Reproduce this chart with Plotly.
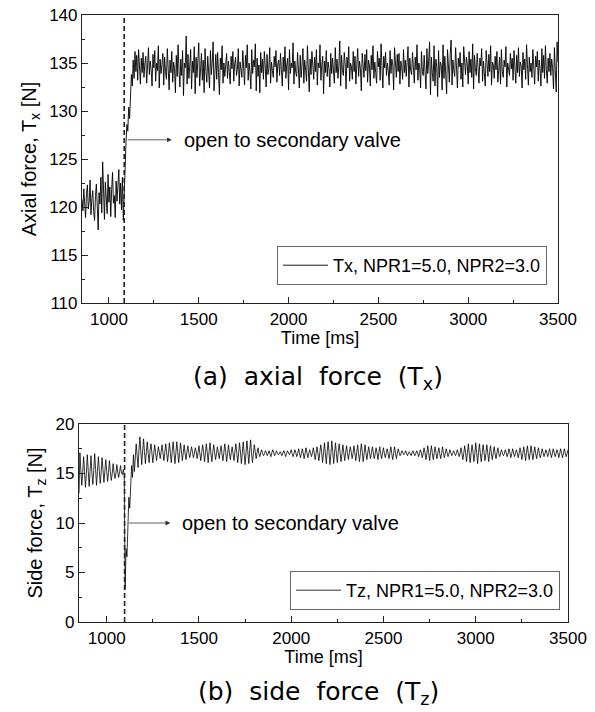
import plotly.graph_objects as go

# ---------------- data (sampled every 5 ms from 850 ms to 3500 ms) ----------------
T_START = 850
T_STEP = 5

tx_values = [
    120.8, 119.6, 121.9, 120.2, 118.9, 121.4, 122.3, 119.8, 120.6, 122.8, 119.2, 120.9, 121.7, 119.5, 118.6, 121.2, 122.4, 120.1, 117.6, 121.5,
    120.3, 123.1, 119.4, 124.7, 120.2, 118.7, 122.6, 121.0, 119.3, 123.4, 120.5, 122.1, 119.0, 121.8, 123.6, 120.4, 121.2, 118.9, 122.7, 120.6,
    121.9, 123.9, 120.3, 122.5, 119.7, 123.1, 118.6, 122.4, 124.0, 126.8, 128.6, 127.9, 130.4, 129.2, 131.6, 133.8, 132.6, 135.3, 133.4, 136.2,
    134.1, 135.8, 133.2, 136.4, 134.7, 132.8, 135.5, 134.0, 136.1, 133.5, 134.9, 135.7, 132.9, 134.4, 136.6, 133.8, 135.2, 134.3, 132.6, 135.9,
    134.5, 136.3, 133.1, 135.0, 134.2, 136.8, 132.4, 135.4, 133.9, 134.8, 136.0, 132.7, 135.6, 134.1, 133.3, 136.5, 134.6, 132.2, 135.3, 134.0,
    136.2, 133.0, 135.1, 134.4, 131.9, 135.8, 133.6, 136.9, 134.2, 132.5, 135.4, 133.7, 136.3, 131.6, 135.0, 134.5, 137.8, 132.8, 135.9, 133.4,
    134.7, 136.4, 132.3, 135.2, 134.0, 136.7, 131.8, 135.6, 133.5, 134.9, 137.1, 132.6, 134.3, 136.0, 133.2, 135.3, 131.9, 136.5, 134.1, 133.0,
    135.7, 134.2, 132.4, 136.3, 133.8, 135.1, 137.2, 132.1, 134.6, 135.9, 133.3, 136.1, 134.0, 131.7, 135.5, 134.3, 136.8, 132.9, 135.0, 133.6,
    134.8, 136.0, 133.4, 135.2, 134.1, 132.8, 135.7, 134.4, 136.2, 133.1, 134.9, 135.6, 133.7, 134.3, 136.5, 132.6, 135.1, 134.0, 133.5, 136.3,
    134.2, 132.7, 135.8, 134.5, 136.9, 133.2, 135.0, 134.1, 132.3, 136.4, 133.9, 135.3, 134.6, 137.0, 132.1, 135.5, 133.6, 134.8, 131.9, 136.1,
    134.0, 135.4, 133.3, 136.2, 134.7, 132.5, 135.9, 133.8, 134.4, 136.6, 132.9, 135.1, 134.2, 133.5, 135.7, 134.6, 136.3, 133.0, 134.9, 135.3,
    133.7, 136.0, 134.3, 132.6, 135.6, 134.1, 136.7, 133.4, 134.8, 135.5, 132.2, 136.4, 133.9, 135.0, 134.5, 137.1, 132.8, 135.2, 134.0, 133.6,
    136.1, 134.4, 132.4, 135.8, 133.5, 134.9, 136.5, 132.9, 135.3, 134.2, 133.1, 136.8, 134.6, 132.0, 135.4, 133.8, 136.2, 134.7, 133.3, 135.6,
    134.1, 136.4, 132.7, 135.0, 134.5, 136.9, 133.2, 134.8, 135.7, 131.8, 135.2, 134.0, 136.3, 133.6, 135.1, 134.4, 132.5, 136.0, 133.9, 135.5,
    134.3, 132.9, 136.6, 134.0, 135.4, 133.4, 134.7, 137.3, 132.6, 135.8, 134.2, 133.7, 136.1, 134.9, 132.3, 135.6, 134.5, 136.7, 133.1, 135.0,
    134.6, 133.3, 136.2, 134.1, 135.7, 132.8, 134.9, 136.5, 133.6, 135.2, 134.4, 132.1, 136.0, 134.8, 133.5, 135.9, 134.2, 136.4, 133.0, 135.3,
    134.7, 132.6, 135.8, 134.3, 136.8, 133.4, 135.1, 134.0, 132.9, 136.2, 134.6, 135.5, 133.2, 137.0, 134.1, 132.4, 135.7, 134.5, 136.1, 133.7,
    135.0, 134.2, 132.7, 136.3, 133.9, 135.4, 134.8, 132.2, 136.6, 134.4, 133.5, 135.9, 134.1, 136.0, 132.8, 135.2, 134.6, 133.3, 136.4, 134.0,
    135.3, 133.6, 134.9, 136.7, 132.5, 135.5, 134.2, 133.8, 136.1, 134.7, 132.9, 135.6, 134.3, 136.9, 133.2, 135.0, 134.5, 132.4, 136.2, 134.1,
    133.7, 135.8, 134.4, 132.3, 136.5, 133.9, 135.2, 137.2, 131.7, 135.6, 134.0, 133.1, 136.8, 132.6, 135.4, 134.6, 131.5, 136.3, 133.5, 135.1,
    134.8, 132.2, 136.9, 133.4, 135.7, 134.1, 131.8, 136.4, 134.5, 133.0, 135.9, 137.4, 132.7, 135.3, 134.2, 133.6, 136.6, 134.0, 132.4, 135.5,
    134.6, 136.1, 133.3, 135.0, 132.5, 136.7, 134.3, 133.8, 135.6, 134.9, 132.8, 136.2, 134.0, 135.4, 133.5, 137.0, 132.3, 135.8, 134.4, 133.7,
    136.0, 134.2, 132.9, 135.5, 134.7, 136.5, 133.1, 135.2, 134.0, 132.6, 136.3, 134.5, 133.6, 135.9, 134.1, 136.8, 132.7, 135.1, 134.8, 133.4,
    135.7, 134.3, 136.2, 133.0, 134.9, 135.6, 132.8, 136.4, 134.1, 133.5, 135.3, 134.6, 136.7, 132.5, 135.0, 134.2, 133.7, 136.0, 134.4, 135.5,
    133.2, 136.3, 134.5, 132.9, 135.8, 134.0, 136.6, 133.6, 135.1, 134.7, 132.4, 136.1, 134.3, 135.4, 133.3, 136.9, 134.8, 132.7, 135.6, 134.1,
    135.0, 133.5, 136.4, 134.2, 132.8, 135.7, 134.6, 136.2, 133.1, 135.3, 134.4, 132.6, 136.5, 134.0, 135.8, 133.4, 136.8, 134.3, 132.9, 135.5,
    134.1, 136.0, 133.7, 135.4, 134.5, 132.3, 136.6, 134.2, 132.0, 137.2, 135.1,
]

tz_values = [
    13.0, 17.1, 15.3, 13.8, 15.1, 16.7, 15.2, 13.6, 15.0, 16.9, 15.3, 13.7, 15.2, 16.8, 15.1, 13.9, 15.3, 17.0, 15.4, 13.8,
    15.2, 16.7, 15.3, 14.0, 15.1, 16.6, 15.4, 14.1, 15.2, 16.4, 15.3, 14.2, 15.1, 16.3, 15.2, 14.3, 15.0, 16.0, 15.1, 14.5,
    15.0, 15.9, 15.1, 14.6, 15.2, 15.8, 15.0, 14.9, 15.4, 14.8, 3.3, 7.4, 6.6, 9.5, 12.6, 11.5, 14.2, 15.8, 14.6, 16.9,
    15.2, 16.6, 18.0, 16.8, 15.6, 17.4, 18.7, 17.2, 15.9, 17.3, 18.5, 17.1, 16.0, 17.2, 18.2, 17.0, 16.1, 17.3, 18.0, 17.1,
    16.1, 17.0, 17.9, 17.1, 16.3, 17.0, 17.7, 17.2, 16.5, 17.2, 17.9, 17.1, 16.3, 17.1, 18.0, 17.2, 16.2, 17.0, 18.1, 17.1,
    16.1, 17.2, 18.2, 17.1, 16.0, 17.1, 18.2, 17.2, 16.1, 17.0, 18.1, 17.3, 16.3, 17.1, 17.9, 17.0, 16.4, 17.2, 17.8, 17.1,
    16.6, 17.1, 17.7, 17.2, 16.6, 17.0, 17.6, 17.2, 16.5, 17.1, 17.8, 17.0, 16.3, 17.1, 17.9, 17.2, 16.2, 17.0, 18.0, 17.1,
    16.1, 17.2, 18.1, 17.0, 16.2, 17.1, 17.9, 17.2, 16.4, 17.0, 17.7, 17.1, 16.5, 17.2, 17.8, 17.0, 16.3, 17.1, 18.0, 17.2,
    16.2, 17.0, 17.9, 17.1, 16.4, 17.1, 17.7, 17.0, 16.3, 17.2, 18.0, 17.1, 16.1, 17.0, 18.1, 17.2, 16.0, 17.1, 18.2, 17.0,
    15.9, 17.1, 18.3, 17.2, 16.0, 17.3, 18.4, 17.1, 16.1, 17.0, 17.9, 17.2, 16.5, 17.1, 17.6, 17.0, 16.7, 17.1, 17.4, 17.0,
    16.8, 17.0, 17.3, 17.1, 16.8, 17.0, 17.3, 17.0, 16.7, 17.1, 17.4, 17.1, 16.8, 17.0, 17.3, 17.1, 16.9, 17.0, 17.2, 17.0,
    16.8, 17.1, 17.3, 17.0, 16.7, 17.0, 17.3, 17.1, 16.9, 17.1, 17.4, 17.0, 16.7, 17.0, 17.4, 17.1, 16.7, 17.0, 17.5, 17.1,
    16.6, 17.0, 17.5, 17.1, 16.5, 17.0, 17.6, 17.1, 16.6, 17.0, 17.4, 17.1, 16.7, 17.1, 17.6, 17.0, 16.4, 17.1, 17.7, 17.0,
    16.3, 17.1, 17.9, 17.2, 16.1, 17.0, 18.1, 17.1, 16.0, 17.2, 18.2, 17.1, 15.9, 17.0, 18.3, 17.2, 16.0, 17.1, 18.1, 17.0,
    16.1, 17.2, 18.0, 17.1, 16.2, 17.0, 17.9, 17.1, 16.3, 17.1, 17.8, 17.0, 16.4, 17.1, 17.7, 17.2, 16.5, 17.0, 17.8, 17.1,
    16.3, 17.1, 17.9, 17.0, 16.2, 17.1, 18.0, 17.2, 16.2, 17.0, 17.9, 17.1, 16.4, 17.1, 17.7, 17.0, 16.5, 17.1, 17.7, 17.1,
    16.5, 17.0, 17.6, 17.1, 16.4, 17.1, 17.7, 17.0, 16.5, 17.1, 17.6, 17.0, 16.6, 17.1, 17.5, 17.0, 16.5, 17.1, 17.7, 17.0,
    16.4, 17.0, 17.7, 17.1, 16.5, 17.0, 17.5, 17.1, 16.8, 17.0, 17.3, 17.1, 16.9, 17.0, 17.3, 17.1, 16.8, 17.0, 17.2, 17.0,
    16.8, 17.1, 17.3, 17.0, 16.8, 17.0, 17.3, 17.1, 16.7, 17.0, 17.4, 17.1, 16.6, 17.0, 17.6, 17.1, 16.4, 17.0, 17.8, 17.1,
    16.3, 17.1, 17.8, 17.0, 16.4, 17.1, 17.7, 17.0, 16.5, 17.1, 17.6, 17.0, 16.5, 17.0, 17.7, 17.1, 16.6, 17.0, 17.5, 17.1,
    16.7, 17.0, 17.4, 17.1, 16.8, 17.0, 17.3, 17.1, 16.8, 17.0, 17.4, 17.1, 16.7, 17.0, 17.6, 17.1, 16.4, 17.0, 17.8, 17.1,
    16.2, 17.1, 18.0, 17.0, 16.1, 17.1, 17.9, 17.2, 16.2, 17.0, 18.1, 17.1, 16.0, 17.1, 18.0, 17.0, 16.2, 17.1, 17.9, 17.1,
    16.3, 17.0, 17.9, 17.1, 16.2, 17.1, 17.8, 17.0, 16.4, 17.1, 17.7, 17.0, 16.5, 17.1, 17.6, 17.0, 16.7, 17.1, 17.4, 17.0,
    16.8, 17.0, 17.4, 17.1, 16.7, 17.0, 17.5, 17.1, 16.6, 17.0, 17.5, 17.1, 16.7, 17.0, 17.4, 17.1, 16.6, 17.0, 17.6, 17.1,
    16.4, 17.0, 17.7, 17.1, 16.3, 17.1, 17.8, 17.0, 16.4, 17.1, 17.8, 17.0, 16.4, 17.1, 17.7, 17.0, 16.5, 17.1, 17.6, 17.0,
    16.6, 17.0, 17.5, 17.1, 16.7, 17.0, 17.4, 17.1, 16.7, 17.0, 17.5, 17.1, 16.6, 17.0, 17.5, 17.1, 16.7, 17.0, 17.4, 17.1,
    16.6, 17.0, 17.5, 17.1, 16.6, 17.0, 17.5, 17.1, 16.7, 17.0, 17.4,
]

time_tx = [T_START + T_STEP * i for i in range(len(tx_values))]
time_tz = [T_START + T_STEP * i for i in range(len(tz_values))]

valve_open_tx = 1085
valve_open_tz = 1097
x_ticks = [1000, 1500, 2000, 2500, 3000, 3500]
tx_ticks = [110, 115, 120, 125, 130, 135, 140]
tz_ticks = [0, 5, 10, 15, 20]

FONT = "Liberation Sans, Arial, sans-serif"
CAP_FONT = "DejaVu Sans"
W, H = 595, 712

fig = go.Figure()
fig.add_trace(go.Scatter(x=time_tx, y=tx_values, mode="lines",
                         line=dict(color="black", width=0.9),
                         name="Tx, NPR1=5.0, NPR2=3.0",
                         xaxis="x", yaxis="y", legend="legend"))
fig.add_trace(go.Scatter(x=time_tz, y=tz_values, mode="lines",
                         line=dict(color="black", width=0.8),
                         name="Tz, NPR1=5.0, NPR2=3.0",
                         xaxis="x2", yaxis="y2", legend="legend2"))

axis_common = dict(showline=True, mirror=True, linecolor="#222", linewidth=1.2,
                   showgrid=False, zeroline=False, ticks="inside", ticklen=6,
                   tickwidth=1, tickcolor="#222", automargin=False,
                   tickfont=dict(family=FONT, size=17, color="black"))
title_font = dict(family=FONT, size=18, color="black")
ytitle_font = dict(family=FONT, size=20, color="black")

fig.update_layout(
    width=W, height=H,
    margin=dict(l=0, r=0, t=0, b=0),
    paper_bgcolor="white", plot_bgcolor="white",
    font=dict(family=FONT, color="black"),
    xaxis=dict(domain=[82 / W, 558 / W], anchor="y", range=[850, 3500],
               tickmode="array", tickvals=x_ticks,
               minor=dict(ticks="inside", ticklen=3, dtick=250, tick0=1000, tickcolor="#222"),
               title=dict(text="Time [ms]", font=title_font, standoff=2),
               **axis_common),
    yaxis=dict(domain=[1 - 303 / H, 1 - 15 / H], anchor="x", range=[110, 140],
               tickmode="array", tickvals=tx_ticks,
               minor=dict(ticks="inside", ticklen=3, dtick=2.5, tick0=110, tickcolor="#222"),
               title=dict(text="Axial force, T<sub>x</sub> [N]", font=ytitle_font, standoff=7),
               **axis_common),
    xaxis2=dict(domain=[79 / W, 568 / W], anchor="y2", range=[850, 3500],
                tickmode="array", tickvals=x_ticks,
                minor=dict(ticks="inside", ticklen=3, dtick=250, tick0=1000, tickcolor="#222"),
                title=dict(text="Time [ms]", font=title_font, standoff=0),
                **axis_common),
    yaxis2=dict(domain=[1 - 622 / H, 1 - 424 / H], anchor="x2", range=[0, 20],
                tickmode="array", tickvals=tz_ticks,
                minor=dict(ticks="inside", ticklen=3, dtick=2.5, tick0=0, tickcolor="#222"),
                title=dict(text="Side force, T<sub>z</sub> [N]", font=ytitle_font, standoff=7),
                **axis_common),
    legend=dict(x=547 / W, y=1 - 285 / H, xanchor="right", yanchor="bottom",
                bordercolor="#666", borderwidth=1, bgcolor="white", itemwidth=45,
                font=dict(family=FONT, size=18, color="black")),
    legend2=dict(x=560 / W, y=1 - 610 / H, xanchor="right", yanchor="bottom",
                 bordercolor="#666", borderwidth=1, bgcolor="white", itemwidth=45,
                 font=dict(family=FONT, size=18, color="black")),
    showlegend=True,
)

# dashed valve-opening lines
fig.add_shape(type="line", xref="x", yref="y domain", x0=valve_open_tx, x1=valve_open_tx,
              y0=0, y1=1, line=dict(color="#222", width=1.6, dash="5px,3px"))
fig.add_shape(type="line", xref="x2", yref="y2 domain", x0=valve_open_tz, x1=valve_open_tz,
              y0=0, y1=1, line=dict(color="#222", width=1.6, dash="5px,3px"))

# arrows + labels
ann_font = dict(family=FONT, size=20, color="black")
fig.add_annotation(x=1350, y=127, xref="x", yref="y", ax=1095, ay=127, axref="x", ayref="y",
                   text="", showarrow=True, arrowhead=2, arrowsize=1.2, arrowwidth=0.8, arrowcolor="#333")
fig.add_annotation(x=1405, y=127, xref="x", yref="y", text="open to secondary valve",
                   showarrow=False, xanchor="left", yanchor="middle", font=ann_font)
fig.add_annotation(x=1345, y=10, xref="x2", yref="y2", ax=1112, ay=10, axref="x2", ayref="y2",
                   text="", showarrow=True, arrowhead=2, arrowsize=1.2, arrowwidth=0.8, arrowcolor="#333")
fig.add_annotation(x=1400, y=10, xref="x2", yref="y2", text="open to secondary valve",
                   showarrow=False, xanchor="left", yanchor="middle", font=ann_font)

# captions
cap_font = dict(family=CAP_FONT, size=25, color="black")
sp = "\u00a0\u00a0"
fig.add_annotation(x=318 / W, y=1 - 378 / H, xref="paper", yref="paper",
                   xanchor="center", yanchor="middle",
                   text=f"(a){sp}axial{sp}force{sp}(T<sub>x</sub>)", showarrow=False, font=cap_font)
fig.add_annotation(x=318 / W, y=1 - 693 / H, xref="paper", yref="paper",
                   xanchor="center", yanchor="middle",
                   text=f"(b){sp}side{sp}force{sp}(T<sub>z</sub>)", showarrow=False, font=cap_font)

fig.write_html("out.html", config={"displayModeBar": False},
               post_script="document.body.style.margin='0';document.body.style.overflow='hidden';")
